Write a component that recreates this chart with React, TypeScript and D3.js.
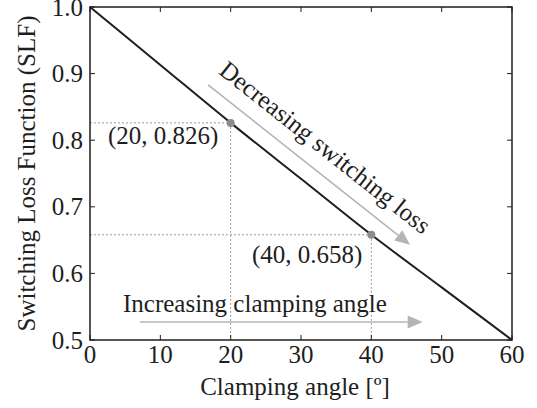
import React from "react";
import * as d3 from "d3";

// Switching loss function vs. clamping angle
const angles = [0, 10, 20, 30, 40, 50, 60];
const slfValues = [1.0, 0.913, 0.826, 0.742, 0.658, 0.579, 0.5];

const xTicks = [0, 10, 20, 30, 40, 50, 60];
const yTicks = [0.5, 0.6, 0.7, 0.8, 0.9, 1.0];

// Highlighted operating points
const markerAngles = [20, 40];
const markerValues = [0.826, 0.658];
const markerLabels = ["(20, 0.826)", "(40, 0.658)"];

const W = 537;
const H = 408;
const M = { left: 90, right: 25, top: 7, bottom: 68 };

const FONT = "Times New Roman, Liberation Serif, Times, DejaVu Serif, serif";
const INK = "#1e1e1e";
const TXT = { fontFamily: FONT, fontSize: 25, fill: INK };

export default function App() {
  const x = d3.scaleLinear().domain([0, 60]).range([M.left, W - M.right]);
  const y = d3.scaleLinear().domain([0.5, 1.0]).range([H - M.bottom, M.top]);

  const line = d3
    .line<number>()
    .x((_, i) => x(angles[i]))
    .y((d) => y(d))
    .curve(d3.curveMonotoneX);

  const x0 = x(0);
  const x1 = x(60);
  const y0 = y(0.5);
  const y1 = y(1.0);
  const tickLen = 5;

  // annotation arrows, in data coordinates
  const decStart: [number, number] = [16.8, 0.883];
  const decEnd: [number, number] = [45.5, 0.643];
  const incStart: [number, number] = [7.1, 0.527];
  const incEnd: [number, number] = [47.3, 0.527];

  const arrow = (s: [number, number], e: [number, number]) => {
    const sx = x(s[0]);
    const sy = y(s[1]);
    const ex = x(e[0]);
    const ey = y(e[1]);
    const ang = Math.atan2(ey - sy, ex - sx);
    const headL = 15;
    const headW = 6.5;
    const bx = ex - headL * Math.cos(ang);
    const by = ey - headL * Math.sin(ang);
    const px = -Math.sin(ang) * headW;
    const py = Math.cos(ang) * headW;
    return (
      <g>
        <line x1={sx} y1={sy} x2={bx} y2={by} stroke="#b4b4b4" strokeWidth={1.6} />
        <path
          d={`M${ex},${ey} L${bx + px},${by + py} L${bx - px},${by - py} Z`}
          fill="#b4b4b4"
        />
      </g>
    );
  };

  const decAngle =
    (Math.atan2(y(decEnd[1]) - y(decStart[1]), x(decEnd[0]) - x(decStart[0])) * 180) /
    Math.PI;

  return (
    <svg
      width={W}
      height={H}
      style={{ position: "absolute", left: 0, top: 0, background: "#fff" }}
    >
      {/* guide lines to highlighted points */}
      {markerAngles.map((a, i) => (
        <g key={`g${i}`} stroke="#9a9a9a" strokeWidth={1} strokeDasharray="2,2">
          <line x1={x0} x2={x(a)} y1={y(markerValues[i])} y2={y(markerValues[i])} />
          <line x1={x(a)} x2={x(a)} y1={y(markerValues[i])} y2={y0} />
        </g>
      ))}

      {/* ticks on all four sides, pointing inward */}
      {xTicks.map((t) => (
        <g key={`xt${t}`} stroke={INK} strokeWidth={1}>
          <line x1={x(t)} x2={x(t)} y1={y0} y2={y0 - tickLen} />
          <line x1={x(t)} x2={x(t)} y1={y1} y2={y1 + tickLen} />
        </g>
      ))}
      {yTicks.map((t) => (
        <g key={`yt${t}`} stroke={INK} strokeWidth={1}>
          <line x1={x0} x2={x0 + tickLen} y1={y(t)} y2={y(t)} />
          <line x1={x1} x2={x1 - tickLen} y1={y(t)} y2={y(t)} />
        </g>
      ))}

      {/* curve */}
      <path d={line(slfValues) ?? ""} fill="none" stroke={INK} strokeWidth={2} />

      {/* markers */}
      {markerAngles.map((a, i) => (
        <circle key={`m${i}`} cx={x(a)} cy={y(markerValues[i])} r={4} fill="#8c8c8c" />
      ))}

      {/* frame */}
      <rect
        x={x0}
        y={y1}
        width={x1 - x0}
        height={y0 - y1}
        fill="none"
        stroke={INK}
        strokeWidth={1.5}
      />

      {/* tick labels */}
      {xTicks.map((t) => (
        <text key={`xl${t}`} x={x(t)} y={y0 + 23} textAnchor="middle" style={TXT}>
          {t}
        </text>
      ))}
      {yTicks.map((t) => (
        <text key={`yl${t}`} x={x0 - 7} y={y(t) + 8.5} textAnchor="end" style={TXT}>
          {t.toFixed(1)}
        </text>
      ))}

      {/* axis titles */}
      <text x={(x0 + x1) / 2 - 6} y={395} textAnchor="middle" style={TXT}>
        Clamping angle [º]
      </text>
      <text
        transform={`translate(35, ${(y0 + y1) / 2}) rotate(-90)`}
        textAnchor="middle"
        style={TXT}
      >
        Switching Loss Function (SLF)
      </text>

      {/* point labels */}
      <text x={108} y={144} style={TXT}>
        {markerLabels[0]}
      </text>
      <text x={252} y={263} style={TXT}>
        {markerLabels[1]}
      </text>

      {/* annotations */}
      {arrow(decStart, decEnd)}
      <text
        transform={`translate(320, 154) rotate(${decAngle})`}
        textAnchor="middle"
        style={TXT}
      >
        Decreasing switching loss
      </text>

      {arrow(incStart, incEnd)}
      <text x={123} y={312} style={TXT}>
        Increasing clamping angle
      </text>
    </svg>
  );
}
